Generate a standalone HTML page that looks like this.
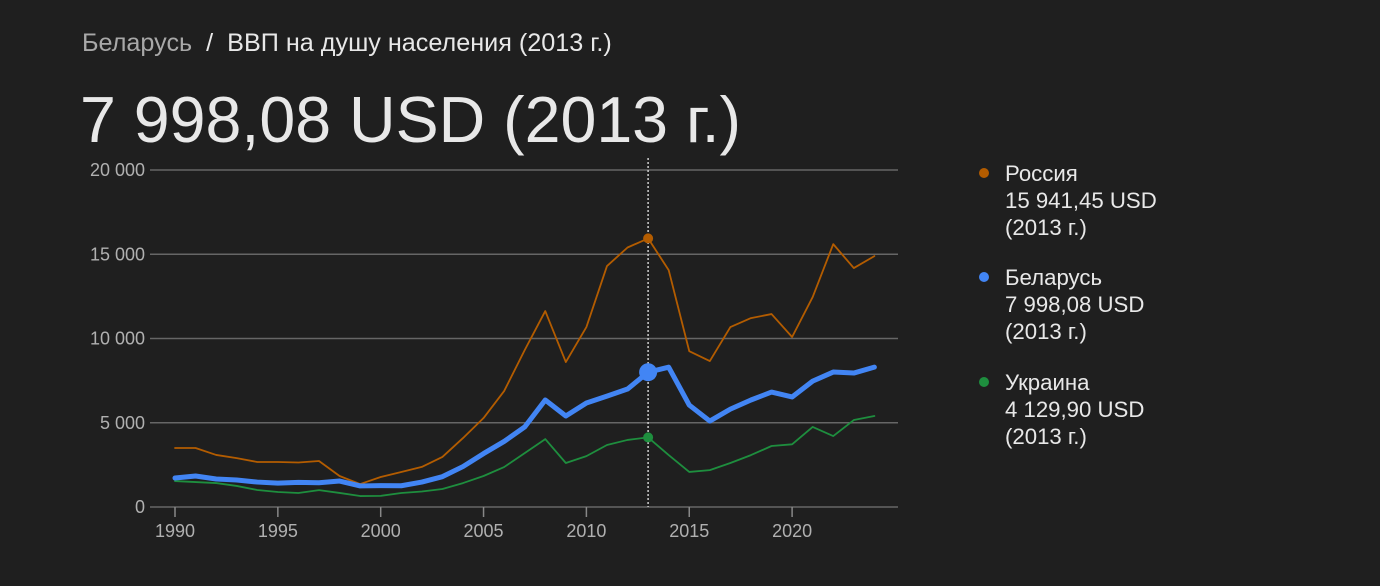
<!DOCTYPE html>
<html><head><meta charset="utf-8"><style>
body{margin:0;background:#1f1f1f;width:1380px;height:586px;overflow:hidden;font-family:"Liberation Sans",Arial,sans-serif;}
.bc{position:absolute;left:82px;top:29px;font-size:25.2px;color:#e8e8e8;}
.bc .g{color:#a8a8a8}
.big{position:absolute;left:80px;top:83px;font-size:64.5px;color:#e8e8e8;}
.leg{position:absolute;left:1005px;font-size:22.2px;color:#e8e8e8;line-height:27px;}
.dot{position:absolute;left:-26px;top:8px;width:10px;height:10px;border-radius:50%;}
</style></head><body>
<div class="bc"><span class="g">Беларусь</span>&nbsp; /&nbsp; ВВП на душу населения (2013 г.)</div>
<div class="big">7 998,08 USD (2013 г.)</div>
<div class="leg" style="top:160px"><div class="dot" style="background:#b35c00"></div>Россия<br>15 941,45 USD<br>(2013 г.)</div>
<div class="leg" style="top:264px"><div class="dot" style="background:#4285f4"></div>Беларусь<br>7 998,08 USD<br>(2013 г.)</div>
<div class="leg" style="top:369px"><div class="dot" style="background:#1e8e3e"></div>Украина<br>4 129,90 USD<br>(2013 г.)</div>
<svg id="c" width="1380" height="586" style="position:absolute;left:0;top:0"></svg>
<script>
const years=[];for(let y=1990;y<=2024;y++)years.push(y);
const russia=[3500,3500,3090,2900,2670,2670,2640,2730,1840,1360,1780,2080,2380,2970,4090,5280,6880,9310,11630,8600,10680,14300,15400,15941,14060,9250,8660,10680,11210,11450,10090,12460,15600,14180,14890];
const belarus=[1720,1840,1660,1600,1480,1420,1460,1440,1540,1250,1270,1260,1480,1800,2400,3170,3890,4750,6350,5400,6170,6580,7000,7998,8300,6050,5100,5810,6350,6820,6530,7470,8010,7950,8300];
const ukraine=[1540,1480,1420,1250,1010,890,830,1000,835,650,660,830,920,1070,1420,1840,2370,3200,4030,2610,3020,3680,3980,4130,3080,2080,2190,2610,3080,3620,3720,4750,4210,5160,5400];
const yTicks=[0,5000,10000,15000,20000];
const yLabels=["0","5 000","10 000","15 000","20 000"];
const xTicks=[1990,1995,2000,2005,2010,2015,2020];
const sel=2013;
const X=y=>175+(y-1990)*20.57;
const Y=v=>507-v*(337/20000);
const s=document.getElementById('c');const NS="http://www.w3.org/2000/svg";
function mk(t,a){const e=document.createElementNS(NS,t);for(const k in a)e.setAttribute(k,a[k]);s.appendChild(e);return e;}
yTicks.forEach((v,i)=>{
 const l=mk('line',{x1:150,x2:898,y1:Y(v),y2:Y(v),stroke:'#666','stroke-width':1.5});
 
 
 const t=mk('text',{x:145,y:Y(v)+6,'text-anchor':'end',fill:'#b0b0b0','font-size':18});
 t.textContent=yLabels[i];
 
 
});
xTicks.forEach(y=>{
 const l=mk('line',{x1:X(y),x2:X(y),y1:507,y2:517,stroke:'#888','stroke-width':1.5});
 
 
 const t=mk('text',{x:X(y),y:537,'text-anchor':'middle',fill:'#b0b0b0','font-size':18});
 t.textContent=y;
 
 
});
const vl=mk('line',{x1:X(sel),x2:X(sel),y1:158,y2:507,stroke:'#ccc','stroke-width':1.5,'stroke-dasharray':'2,2'});


function series(d,c,w,name,r){
 const p=mk('polyline',{points:d.map((v,i)=>X(years[i])+','+Y(v)).join(' '),fill:'none',stroke:c,'stroke-width':w,'stroke-linejoin':'round','stroke-linecap':'round'});
 
 
 const i=years.indexOf(sel);
 const m=mk('circle',{cx:X(sel),cy:Y(d[i]),r:r,fill:c});
 
 
}
series(ukraine,'#1e8e3e',1.8,'ukraine',5);
series(russia,'#b35c00',1.8,'russia',5);
series(belarus,'#4285f4',5,'belarus',9);
</script>
</body></html>
